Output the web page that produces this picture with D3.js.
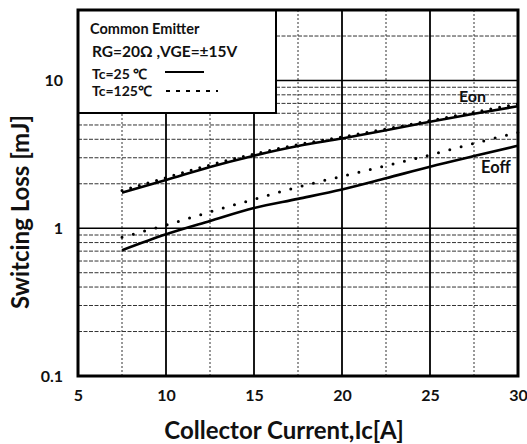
<!DOCTYPE html>
<html><head><meta charset="utf-8">
<script src="https://cdn.jsdelivr.net/npm/d3@7"></script>
<style>body{margin:0;background:#fff}svg{display:block}text{font-family:Lato,"Open Sans",sans-serif;font-weight:bold;fill:#111}</style>
</head><body><svg id="c" width="527" height="444"></svg>
<script>
const current = [7.5, 10, 12.5, 15, 17.5, 20, 22.5, 25, 27.5, 30];
const eon25  = [1.74, 2.12, 2.6, 3.1, 3.6, 4.05, 4.6, 5.25, 5.95, 6.7];
const eon125 = [1.8, 2.2, 2.68, 3.18, 3.68, 4.15, 4.7, 5.35, 6.1, 6.95];
const eoff25 = [0.71, 0.91, 1.12, 1.37, 1.58, 1.83, 2.18, 2.61, 3.08, 3.62];
const eoff125 = [0.87, 1.05, 1.29, 1.57, 1.9, 2.25, 2.65, 3.13, 3.75, 4.45];
const xTicks = [5, 10, 15, 20, 25, 30];
const xMinor = [7.5, 12.5, 17.5, 22.5, 27.5];
const yTicks = [0.1, 1, 10];
const yMinor = [0.2,0.3,0.4,0.5,0.6,0.7,0.8,0.9,2,3,4,5,6,7,8,9,20];
const legendLines = ["Common Emitter", "RG=20\u03A9  ,VGE=\u00B115V", "Tc=25 \u2103", "Tc=125\u2103"];

const svg = d3.select("#c");
const L = 78, R = 518, T = 10, B = 376;
const x = d3.scaleLinear().domain([5, 30]).range([L, R]);
const y = d3.scaleLog().domain([0.1, 30]).range([B, T]);

const g = svg.append("g");
// minor grid
g.selectAll(".ym").data(yMinor).join("line")
  .attr("x1", L).attr("x2", R).attr("y1", d => y(d)).attr("y2", d => y(d))
  .attr("stroke", "#333").attr("stroke-width", 1).attr("stroke-dasharray", "4,1.5");
g.selectAll(".xm").data(xMinor).join("line")
  .attr("y1", T).attr("y2", B).attr("x1", d => x(d)).attr("x2", d => x(d))
  .attr("stroke", "#333").attr("stroke-width", 1).attr("stroke-dasharray", "2,2");
// major grid
g.selectAll(".yM").data(yTicks).join("line")
  .attr("x1", L).attr("x2", R).attr("y1", d => y(d)).attr("y2", d => y(d))
  .attr("stroke", "#000").attr("stroke-width", 1.5);
g.selectAll(".xM").data(xTicks.slice(1, -1)).join("line")
  .attr("y1", T).attr("y2", B).attr("x1", d => x(d)).attr("x2", d => x(d))
  .attr("stroke", "#000").attr("stroke-width", 1.8);

// axes labels via d3 axes
const xAxis = d3.axisBottom(x).tickValues(xTicks).tickSize(0).tickPadding(14).tickFormat(d3.format("d"));
const xa = svg.append("g").attr("transform", `translate(0,${B})`).call(xAxis);
xa.select(".domain").remove();
xa.selectAll("text").attr("font-size", 16).attr("font-family", "Lato").attr("font-weight", "bold").attr("fill", "#111");
const yAxis = d3.axisLeft(y).tickValues(yTicks).tickSize(0).tickPadding(15).tickFormat(d => d === 0.1 ? "0.1" : d3.format("d")(d));
const ya = svg.append("g").attr("transform", `translate(${L},0)`).call(yAxis);
ya.select(".domain").remove();
ya.selectAll("text").attr("font-size", 16).attr("font-family", "Lato").attr("font-weight", "bold").attr("fill", "#111");

// curves
const line = d3.line().x((d, i) => x(current[i])).y(d => y(d)).curve(d3.curveMonotoneX);
const solid = [eon25, eoff25], dotted = [eon125, eoff125];
svg.selectAll(".sol").data(solid).join("path").attr("d", line)
  .attr("fill", "none").attr("stroke", "#000").attr("stroke-width", 2.6);
svg.selectAll(".dot").data(dotted).join("path").attr("d", line)
  .attr("fill", "none").attr("stroke", "#000").attr("stroke-width", 3)
  .attr("stroke-linecap", "round").attr("stroke-dasharray", (d, i) => i === 0 ? "0,9" : "0,11.7");

svg.append("text").attr("x", 459).attr("y", 102).attr("font-size", 16).attr("font-family", "Liberation Sans").text("Eon");
svg.append("text").attr("x", 481).attr("y", 173).attr("font-size", 16.5).attr("font-family", "Liberation Sans").text("Eoff");

// legend box
svg.append("rect").attr("x", L).attr("y", T).attr("width", 198).attr("height", 103)
  .attr("fill", "#fff").attr("stroke", "#000").attr("stroke-width", 2);
svg.selectAll(".lt").data(legendLines).join("text")
  .attr("x", (d, i) => i === 0 ? 90 : 92).attr("y", (d, i) => [34, 57, 78.5, 95.5][i])
  .attr("font-size", (d, i) => i === 0 ? 14.5 : (i === 1 ? 15.5 : 14)).text(d => d);
svg.append("line").attr("x1", 165).attr("x2", 204).attr("y1", 72).attr("y2", 72)
  .attr("stroke", "#000").attr("stroke-width", 2);
svg.append("line").attr("x1", 166).attr("x2", 218).attr("y1", 91).attr("y2", 91)
  .attr("stroke", "#000").attr("stroke-width", 2).attr("stroke-dasharray", "4,6");

// frame
svg.append("rect").attr("x", L).attr("y", T).attr("width", R - L).attr("height", B - T)
  .attr("fill", "none").attr("stroke", "#000").attr("stroke-width", 3);

// titles
svg.append("text").attr("x", 284).attr("y", 439).attr("text-anchor", "middle")
  .attr("font-size", 24).text("Collector Current,Ic[A]");
svg.append("text").attr("transform", "translate(29,212) rotate(-90)").attr("text-anchor", "middle")
  .attr("font-size", 24).text("Switcing Loss [mJ]");
</script></body></html>
